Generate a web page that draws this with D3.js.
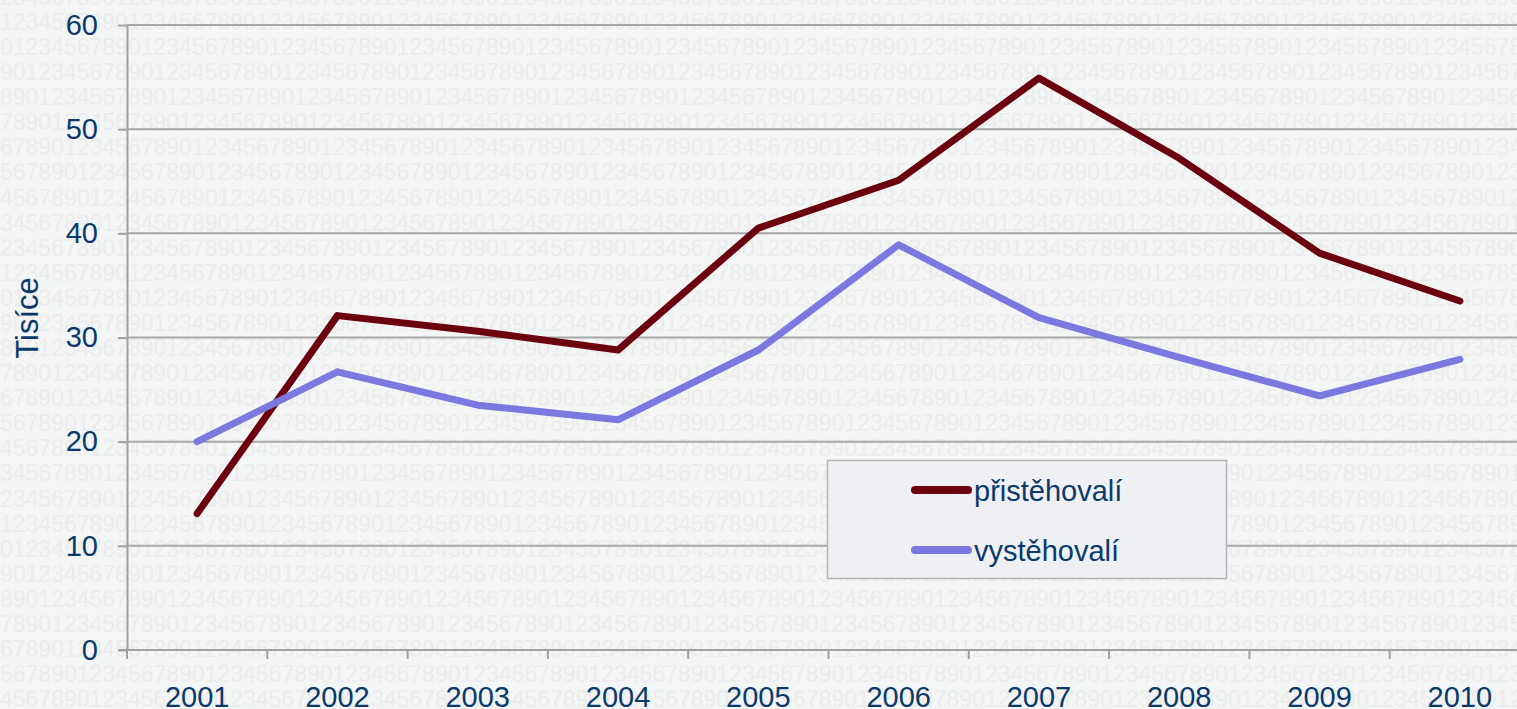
<!DOCTYPE html>
<html>
<head>
<meta charset="utf-8">
<script src="https://cdn.jsdelivr.net/npm/d3@7"></script>
<style>
  body { margin: 0; background: #f4f5f5; }
  svg { display: block; font-family: Arial, "Liberation Sans", sans-serif; }
</style>
</head>
<body>
<script>
"use strict";

const years = ["2001", "2002", "2003", "2004", "2005", "2006", "2007", "2008", "2009", "2010"];
const immigrants = [13.1, 32.1, 30.6, 28.8, 40.5, 45.1, 54.9, 47.2, 38.1, 33.5];
const emigrants = [20.0, 26.7, 23.5, 22.1, 28.8, 38.9, 31.9, 28.1, 24.4, 27.9];
const yTicks = [0, 10, 20, 30, 40, 50, 60];
const seriesNames = ["přistěhovalí", "vystěhovalí"];
const seriesColors = ["#6b000f", "#7b78df"];

const width = 1517, height = 709;
const textColor = "#0a3a6b";

let svg = d3.select("body")
  .append("svg")
  .attr("width", width)
  .attr("height", height);

svg.append("rect")
  .attr("width", width)
  .attr("height", height)
  .attr("fill", "#f4f5f5");

// faint digit pattern in the background
const digits = "1234567890";
let pattern = svg.append("g")
  .attr("fill", "#ebecec")
  .attr("font-size", 23);
for (let i = -1; i < 28; i++) {
  let start = ((1 - i) % 10 + 10) % 10;
  let s = "";
  for (let n = 0; n < 125; n++) s += digits[(start + 9 + n) % 10];
  pattern.append("text")
    .attr("x", 0)
    .attr("y", 30 + 25.08 * i)
    .text(s);
}

const x = d3.scaleBand()
  .domain(years)
  .range([127, 127 + 140.3 * years.length]);

const y = d3.scaleLinear()
  .domain([0, 60])
  .range([650, 25]);

// gridlines
svg.append("g")
  .selectAll("line")
  .data(yTicks.filter(d => d > 0))
  .enter()
  .append("line")
  .attr("x1", 127)
  .attr("x2", width)
  .attr("y1", d => y(d))
  .attr("y2", d => y(d))
  .attr("stroke", "#a6a6a6")
  .attr("stroke-width", 2);

// y axis
let yAxis = svg.append("g")
  .attr("transform", "translate(127,0)")
  .call(d3.axisLeft(y).tickValues(yTicks).tickSize(9).tickSizeOuter(0).tickPadding(20));
yAxis.select(".domain").attr("stroke", "#a0a0a0").attr("stroke-width", 2);
yAxis.selectAll(".tick line").attr("stroke", "#a0a0a0").attr("stroke-width", 2);
yAxis.selectAll(".tick text")
  .attr("fill", textColor)
  .attr("font-size", 29)
  .attr("font-family", "Arial, 'Liberation Sans', sans-serif");

// x axis with ticks between categories
let xAxis = svg.append("g")
  .attr("transform", "translate(0,650)");
xAxis.append("line")
  .attr("x1", 118)
  .attr("x2", width)
  .attr("stroke", "#a0a0a0")
  .attr("stroke-width", 2);
xAxis.selectAll(".tk")
  .data(years)
  .enter()
  .append("line")
  .attr("class", "tk")
  .attr("x1", d => x(d))
  .attr("x2", d => x(d))
  .attr("y1", 0)
  .attr("y2", 9)
  .attr("stroke", "#a0a0a0")
  .attr("stroke-width", 2);
xAxis.selectAll("text")
  .data(years)
  .enter()
  .append("text")
  .attr("x", d => x(d) + x.bandwidth() / 2)
  .attr("y", 57)
  .attr("text-anchor", "middle")
  .attr("fill", textColor)
  .attr("font-size", 29)
  .text(d => d);

// axis title
svg.append("text")
  .attr("transform", "translate(38,318) rotate(-90)")
  .attr("text-anchor", "middle")
  .attr("fill", textColor)
  .attr("font-size", 31)
  .text("Tisíce");

// series lines
const line = d3.line()
  .x((d, i) => x(years[i]) + x.bandwidth() / 2)
  .y(d => y(d));

[immigrants, emigrants].forEach((vals, k) => {
  svg.append("path")
    .datum(vals)
    .attr("d", line)
    .attr("fill", "none")
    .attr("stroke", seriesColors[k])
    .attr("stroke-width", 7)
    .attr("stroke-linecap", "round")
    .attr("stroke-linejoin", "round");
});

// legend
let legend = svg.append("g");
legend.append("rect")
  .attr("x", 827.5)
  .attr("y", 460.5)
  .attr("width", 399)
  .attr("height", 118)
  .attr("fill", "#eff0f4")
  .attr("stroke", "#b3b3b3")
  .attr("stroke-width", 1.5);
seriesNames.forEach((name, k) => {
  let ly = 490 + k * 60;
  legend.append("line")
    .attr("x1", 915)
    .attr("x2", 968)
    .attr("y1", ly)
    .attr("y2", ly)
    .attr("stroke", seriesColors[k])
    .attr("stroke-width", 8)
    .attr("stroke-linecap", "round");
  legend.append("text")
    .attr("x", 974)
    .attr("y", ly + 11)
    .attr("fill", textColor)
    .attr("font-size", 29)
    .text(name);
});
</script>
</body>
</html>
